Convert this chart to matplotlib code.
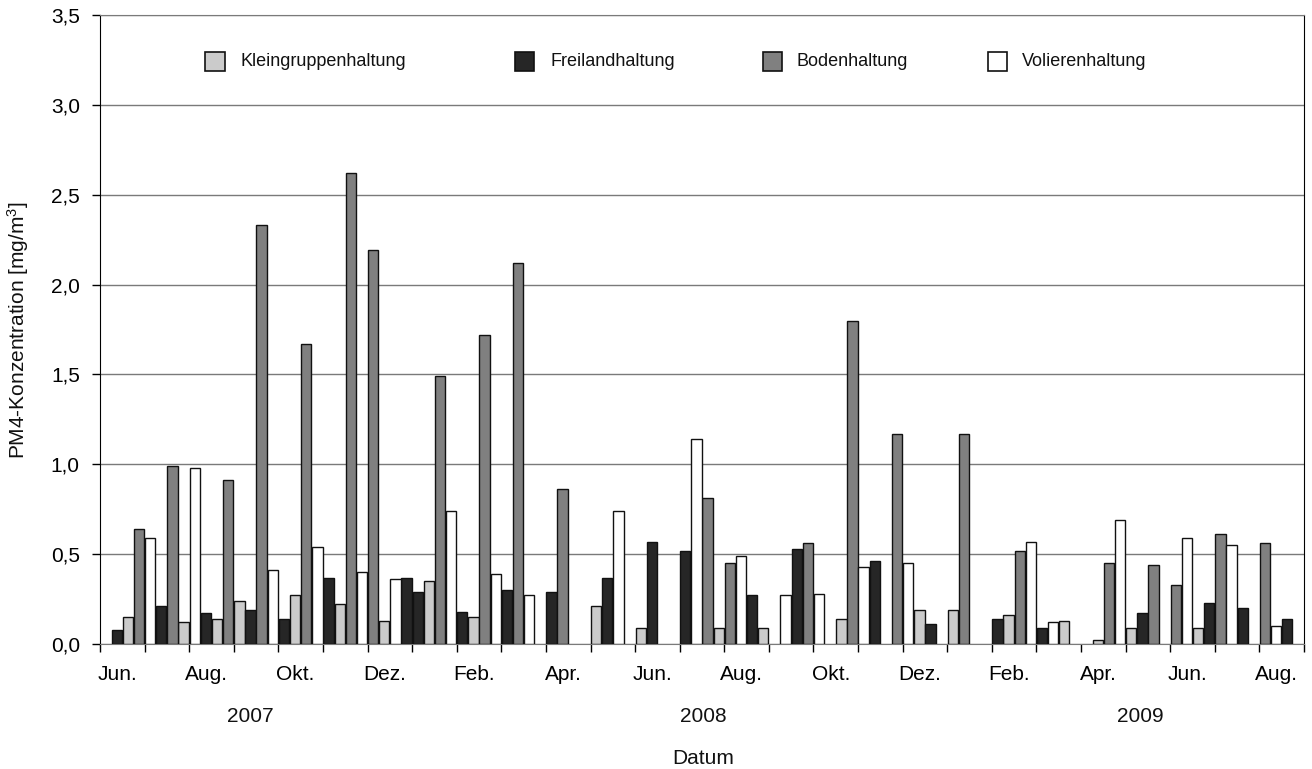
import numpy as np
import matplotlib.pyplot as plt
from matplotlib.patches import Rectangle
from matplotlib.ticker import FixedLocator, FuncFormatter

plt.rcParams['font.family'] = ['Liberation Sans', 'DejaVu Sans']
plt.rcParams['mathtext.default'] = 'regular'

# Zeitachse: Jun. 2007 bis Aug. 2009 = 27 Monate, je Monat 4 Messplätze
n_months = 27
slots_per_month = 4

# Messungen je Haltungsform: Platz auf der Zeitachse, PM4 in mg/m³
klein_pos = [2, 7, 10, 12, 17, 21, 25, 29, 33, 44, 48, 55, 59, 66, 73, 76, 81, 86, 89, 92, 98]
klein_val = [0.15, 0.12, 0.14, 0.24, 0.27, 0.22, 0.13, 0.35, 0.15, 0.21, 0.09, 0.09, 0.09,
             0.14, 0.19, 0.19, 0.16, 0.13, 0.02, 0.09, 0.09]

frei_pos = [1, 5, 9, 13, 16, 20, 27, 28, 32, 36, 40, 45, 49, 52, 58, 62, 69, 74, 80, 84,
            93, 99, 102, 106]
frei_val = [0.08, 0.21, 0.17, 0.19, 0.14, 0.37, 0.37, 0.29, 0.18, 0.30, 0.29, 0.37, 0.57,
            0.52, 0.27, 0.53, 0.46, 0.11, 0.14, 0.09, 0.17, 0.23, 0.20, 0.14]

boden_pos = [3, 6, 11, 14, 18, 22, 24, 30, 34, 37, 41, 54, 56, 63, 67, 71, 77, 82, 90, 94,
             96, 100, 104]
boden_val = [0.64, 0.99, 0.91, 2.33, 1.67, 2.62, 2.19, 1.49, 1.72, 2.12, 0.86, 0.81, 0.45,
             0.56, 1.80, 1.17, 1.17, 0.52, 0.45, 0.44, 0.33, 0.61, 0.56]

voliere_pos = [4, 8, 15, 19, 23, 26, 31, 35, 38, 46, 53, 57, 61, 64, 68, 72, 83, 85, 91,
               97, 101, 105]
voliere_val = [0.59, 0.98, 0.41, 0.54, 0.40, 0.36, 0.74, 0.39, 0.27, 0.74, 1.14, 0.49, 0.27,
               0.28, 0.43, 0.45, 0.57, 0.12, 0.69, 0.59, 0.55, 0.10]

month_labels = ['Jun.', 'Aug.', 'Okt.', 'Dez.', 'Feb.', 'Apr.', 'Jun.',
                'Aug.', 'Okt.', 'Dez.', 'Feb.', 'Apr.', 'Jun.', 'Aug.']
years = ['2007', '2008', '2009']
year_pos = [13.5, 54.1, 93.3]

series = [
    ('Kleingruppenhaltung', klein_pos, klein_val, '#cbcbcb'),
    ('Freilandhaltung', frei_pos, frei_val, '#262626'),
    ('Bodenhaltung', boden_pos, boden_val, '#808080'),
    ('Volierenhaltung', voliere_pos, voliere_val, '#ffffff'),
]

W, H = 1312, 769
fig = plt.figure(figsize=(W / 100, H / 100), dpi=100)
ax = fig.add_axes([100 / W, 1 - 644 / H, 1204 / W, 629 / H])

for name, pos, val, col in series:
    ax.bar(np.array(pos) + 0.5, val, width=0.93, color=col,
           edgecolor='#111111', linewidth=1.0, zorder=3)

n_slots = n_months * slots_per_month
ax.set_xlim(0, n_slots)
ax.set_ylim(0, 3.5)

# y-Achse mit Komma als Dezimaltrennzeichen
ax.set_yticks(np.arange(0, 3.51, 0.5))
ax.yaxis.set_major_formatter(FuncFormatter(lambda v, p: f'{v:.1f}'.replace('.', ',')))
ax.tick_params(axis='y', direction='out', length=6, width=1, pad=8.5, labelsize=15)
ax.yaxis.grid(True, color='#7a7a7a', linewidth=1)
ax.set_axisbelow(True)

# Monatsgrenzen als Striche, Beschriftung jeden zweiten Monat
ax.xaxis.set_major_locator(FixedLocator(np.arange(0, n_slots + 1, slots_per_month)))
ax.xaxis.set_major_formatter(FuncFormatter(lambda v, p: ''))
ax.tick_params(axis='x', which='major', direction='out', length=6, width=1)
label_pos = np.arange(len(month_labels)) * 2 * slots_per_month + slots_per_month / 2 - 0.45
ax.set_xticks(label_pos, minor=True)
ax.set_xticklabels(month_labels, minor=True)
ax.tick_params(axis='x', which='minor', length=0, pad=15, labelsize=15)

for side in ['left', 'right']:
    ax.spines[side].set_color('black')
ax.spines['top'].set_color('#7a7a7a')
ax.spines['bottom'].set_color('#7a7a7a')

# Jahreszahlen unter den Monaten
for yr, xp in zip(years, year_pos):
    fig.text((100 + xp * 1204 / n_slots) / W, 1 - 722 / H, yr,
             ha='center', va='baseline', fontsize=15, color='#111111')

fig.text(703 / W, 1 - 764 / H, 'Datum', ha='center', va='baseline', fontsize=15, color='#111111')
fig.text(18 / W, 1 - 330 / H, 'PM4-Konzentration [mg/m$^{3}$]', rotation=90,
         ha='center', va='center', fontsize=15, color='#111111',
         family=['Liberation Sans Narrow', 'Liberation Sans'])

# Legende oben im Diagramm
leg_sq = [215, 524, 772, 997]
leg_tx = [240, 550, 797, 1022]
leg_y = 61.5
for (name, pos, val, col), sx, tx in zip(series, leg_sq, leg_tx):
    fig.patches.append(Rectangle(((sx - 9.5) / W, 1 - (leg_y + 9.5) / H), 19 / W, 19 / H,
                                 facecolor=col, edgecolor='#111111', linewidth=1.2,
                                 transform=fig.transFigure, figure=fig))
    fig.text(tx / W, 1 - leg_y / H, name, ha='left', va='center', fontsize=13, color='#111111')

fig.savefig('out.png', dpi=100, facecolor='white')
